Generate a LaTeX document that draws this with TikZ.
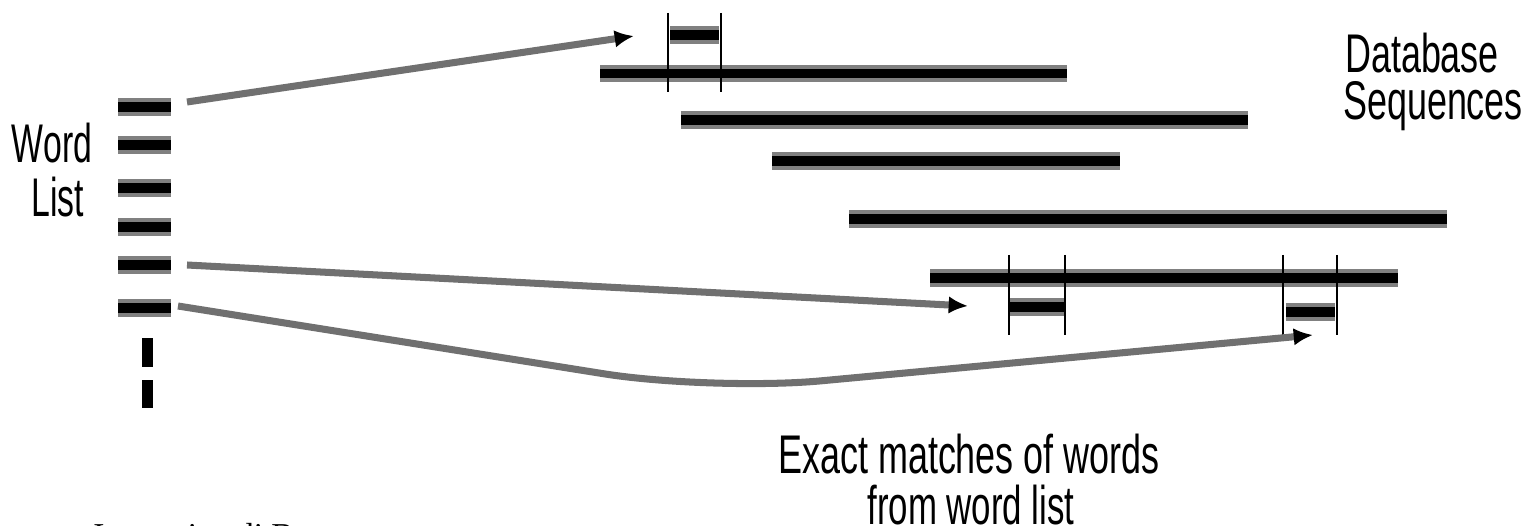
\documentclass[tikz,border=0pt]{standalone}
\usepackage{fontspec}
\setmainfont{Liberation Serif}
\newfontfamily\labfont{Liberation Sans}
\usetikzlibrary{arrows.meta}
\definecolor{fringe}{RGB}{128,128,128}
\definecolor{conngray}{RGB}{112,112,112}
\begin{document}
\begin{tikzpicture}[x=0.02cm,y=-0.02cm,
  seqline/.style={draw=fringe, double=black, double distance=5.67pt, line width=2.27pt},
  tick/.style={line width=1.5pt, draw=black},
  conn/.style={draw=conngray, line width=4pt, -{Latex[length=11pt,width=10pt,color=black]}},
  lab/.style={inner sep=0pt, anchor=base, text=black, font=\labfont\fontsize{31}{31}\selectfont},
  dotbox/.style={fill=black, draw=none}]
\useasboundingbox[fill=white] (0,0) rectangle (1533,526);

% word list bars
\foreach \n/\y in {1/107,2/145,3/188,4/227,5/265,6/308}{
  \coordinate (wl\n) at (118,\y);
  \coordinate (wr\n) at (171,\y);
  \draw[seqline] (wl\n) -- (wr\n);
}
\fill[dotbox] (142,338) rectangle (153,367);
\fill[dotbox] (142,380) rectangle (153,408);

% database sequences
\coordinate (s1a) at (600,73.5);  \coordinate (s1b) at (1067,73.5);
\coordinate (s2a) at (681,120);   \coordinate (s2b) at (1248,120);
\coordinate (s3a) at (772,161);   \coordinate (s3b) at (1120,161);
\coordinate (s4a) at (849,219);   \coordinate (s4b) at (1447,219);
\coordinate (s5a) at (930,278);   \coordinate (s5b) at (1398,278);
\foreach \n in {1,...,5}{ \draw[seqline] (s\n a) -- (s\n b); }

% matches
\coordinate (m1a) at (670,35);   \coordinate (m1b) at (719,35);
\coordinate (m2a) at (1010,307); \coordinate (m2b) at (1065,307);
\coordinate (m3a) at (1286,312); \coordinate (m3b) at (1335,312);
\foreach \n in {1,2,3}{ \draw[seqline] (m\n a) -- (m\n b); }

\draw[tick] (668,13) -- (668,92);
\draw[tick] (721,13) -- (721,92);
\draw[tick] (1009,255) -- (1009,335);
\draw[tick] (1065,255) -- (1065,335);
\draw[tick] (1283,255) -- (1283,335);
\draw[tick] (1337,255) -- (1337,335);

% connectors
\coordinate (c1s) at (187,102);  \coordinate (c1e) at (634,36);
\coordinate (c2s) at (187,265);  \coordinate (c2e) at (968,306);
\coordinate (c3s) at (178,306);  \coordinate (c3m) at (712,391); \coordinate (c3e) at (1313,335);
\draw[conn] (c1s) -- (c1e);
\draw[conn] (c2s) -- (c2e);
\draw[conn, rounded corners=2.2cm] (c3s) -- (c3m) -- (c3e);

% labels
\node[lab] (word) at (52,163) {\scalebox{0.62}[1]{Word}};
\node[lab] (list) at (58,217) {\scalebox{0.62}[1]{List}};
\node[lab] (db) at (1422,73) {\scalebox{0.66}[1]{Database}};
\node[lab] (sq) at (1433,120) {\scalebox{0.66}[1]{Sequences}};
\node[lab] (ex1) at (969,473) {\scalebox{0.66}[1]{Exact matches of words}};
\node[lab] (ex2) at (971,524) {\scalebox{0.64}[1]{from word list}};
\node[inner sep=0pt, anchor=base west, font=\fontsize{19}{19}\selectfont] (credit) at (93,546) {Immagine di B};
\end{tikzpicture}
\end{document}
